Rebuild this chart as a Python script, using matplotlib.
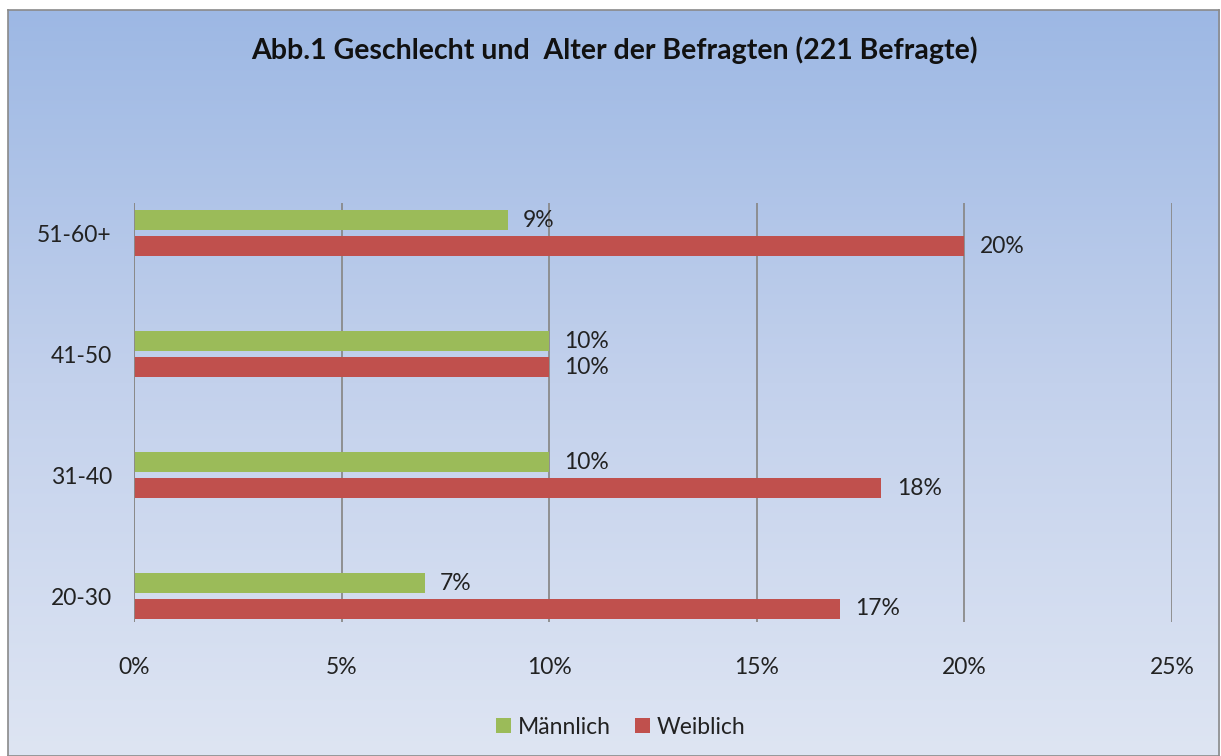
import numpy as np
import matplotlib.pyplot as plt
from matplotlib.colors import LinearSegmentedColormap

# Daten
categories = ["20-30", "31-40", "41-50", "51-60+"]
maennlich = [7, 10, 10, 9]
weiblich = [17, 18, 10, 20]
x_ticks = [0, 5, 10, 15, 20, 25]
x_labels = ["0%", "5%", "10%", "15%", "20%", "25%"]

W, H = 1221, 756
plt.rcParams['font.family'] = ['Lato', 'DejaVu Sans']

fig = plt.figure(figsize=(W / 100, H / 100), dpi=100)
fig.patch.set_facecolor("white")

# Hintergrund mit Verlauf
bg = fig.add_axes([8 / W, 0, (1219 - 8) / W, (H - 10) / H])
cmap = LinearSegmentedColormap.from_list("bg", ["#DEE5F3", "#C3D1EC", "#9DB8E4"])
grad = np.linspace(0, 1, 256).reshape(-1, 1)
bg.imshow(grad, aspect="auto", cmap=cmap, origin="lower", extent=[0, 1, 0, 1])
bg.set_xticks([])
bg.set_yticks([])
for s in bg.spines.values():
    s.set_color("#8a8a8a")
    s.set_linewidth(1.2)

ax = fig.add_axes([134 / W, 1 - 622 / H, (1172 - 134) / W, (622 - 203) / H])
ax.patch.set_alpha(0)

y = np.arange(len(categories))
h = 0.165
off = 0.107
ax.barh(y + off, maennlich, height=h, color="#9BBB59", label="Männlich", zorder=3)
ax.barh(y - off, weiblich, height=h, color="#C0504D", label="Weiblich", zorder=3)

fs = 16.5
for yi, v in zip(y, maennlich):
    ax.annotate(f"{v}%", (v, yi + off), xytext=(11, 0), textcoords="offset points",
                va="center", ha="left", fontsize=fs, color="#222222")
for yi, v in zip(y, weiblich):
    ax.annotate(f"{v}%", (v, yi - off), xytext=(11, 0), textcoords="offset points",
                va="center", ha="left", fontsize=fs, color="#222222")

ax.set_xlim(0, 25)
ax.set_ylim(-0.215, 3.25)
ax.set_xticks(x_ticks)
ax.set_xticklabels(x_labels)
ax.set_yticks(y)
ax.set_yticklabels(categories)
ax.tick_params(axis="x", length=0, pad=25, labelsize=fs, colors="#222222")
ax.tick_params(axis="y", length=0, pad=16, labelsize=fs, colors="#222222")
ax.grid(axis="x", color="#8a8a8a", linewidth=1.3, zorder=1)
for s in ax.spines.values():
    s.set_visible(False)
ax.axvline(0, color="#8a8a8a", linewidth=1.3, zorder=4)

fig.text(614 / W, 1 - 50 / H, "Abb.1 Geschlecht und  Alter der Befragten (221 Befragte)",
         ha="center", va="center", fontsize=20.5, fontweight="bold", color="#111111")

fig.legend(loc="center", bbox_to_anchor=(621 / W, 1 - 727 / H), ncol=2, frameon=False,
           fontsize=fs, handlelength=0.65, handleheight=0.65, handletextpad=0.3,
           columnspacing=1.05, labelcolor="#222222")

fig.savefig("out.png", dpi=100)
